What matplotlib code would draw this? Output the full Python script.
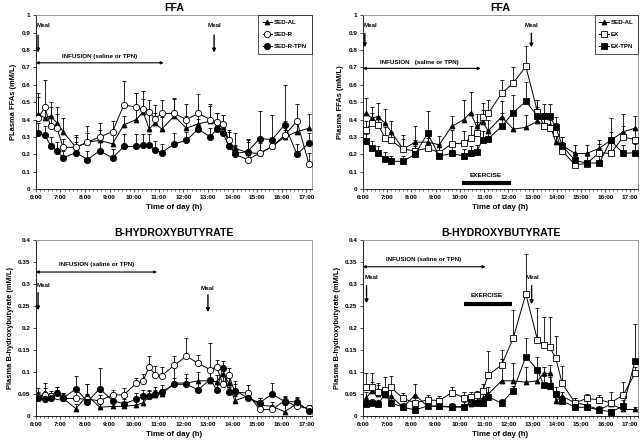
import numpy as np
import matplotlib
matplotlib.use("Agg")
import matplotlib.pyplot as plt
from matplotlib.ticker import MultipleLocator

plt.rcParams['font.family'] = ['Liberation Sans', 'DejaVu Sans']
plt.rcParams['font.weight'] = 'bold'

# sampling times (decimal hours)
time_sed = [6.09, 6.37, 6.6, 6.86, 7.11, 7.63, 8.1, 8.6, 9.12, 9.58, 10.09, 10.36, 10.61, 10.84, 11.12,
            11.63, 12.12, 12.6, 13.1, 13.35, 13.61, 13.85, 14.09, 14.61, 15.1, 15.61, 16.12, 16.62, 17.11]
time_ex = [6.12, 6.36, 6.63, 6.91, 7.16, 7.66, 8.15, 8.67, 9.15, 9.66, 10.17, 10.44, 10.69, 10.94, 11.17,
           11.72, 12.2, 12.72, 13.2, 13.46, 13.71, 13.96, 14.22, 14.75, 15.23, 15.75, 16.22, 16.74, 17.22]

hour_ticks = list(range(6, 18))
hour_labels = [f"{h}:00" for h in hour_ticks]

# FFA, sedentary groups (mM/L) and upper SEM
ffa_sed_al = [0.43, 0.41, 0.42, 0.38, 0.33, 0.24, 0.27, 0.28, 0.26, 0.37, 0.40, 0.445, 0.345, 0.38, 0.345,
              0.42, 0.35, 0.375, 0.39, 0.37, 0.355, 0.27, 0.235, 0.21, 0.205, 0.245, 0.30, 0.33, 0.35]
ffa_sed_r = [0.41, 0.47, 0.36, 0.35, 0.24, 0.24, 0.27, 0.30, 0.33, 0.485, 0.47, 0.46, 0.445, 0.405, 0.435,
             0.435, 0.40, 0.435, 0.40, 0.385, 0.375, 0.28, 0.20, 0.17, 0.205, 0.245, 0.31, 0.39, 0.145]
ffa_sed_r_tpn = [0.32, 0.31, 0.25, 0.22, 0.18, 0.21, 0.17, 0.22, 0.18, 0.245, 0.245, 0.255, 0.255, 0.225, 0.21,
                 0.26, 0.28, 0.345, 0.30, 0.345, 0.32, 0.25, 0.205, 0.215, 0.29, 0.285, 0.37, 0.20, 0.265]
err_ffa_sed_al = [0.12, 0.06, 0.08, 0.09, 0.08, 0.07, 0.05, 0.06, 0.05, 0.05, 0.15, 0.12, 0.10, 0.06, 0.07,
                  0.10, 0.07, 0.06, 0.09, 0.07, 0.07, 0.06, 0.09, 0.06, 0.06, 0.05, 0.04, 0.05, 0.08]
err_ffa_sed_r = [0.12, 0.155, 0.11, 0.08, 0.05, 0.06, 0.09, 0.08, 0.06, 0.135, 0.08, 0.06, 0.07, 0.08, 0.08,
                 0.09, 0.09, 0.11, 0.09, 0.05, 0.05, 0.06, 0.05, 0.12, 0.08, 0.05, 0.08, 0.10, 0.06]
err_ffa_sed_r_tpn = [0.06, 0.05, 0.05, 0.05, 0.04, 0.06, 0.05, 0.05, 0.05, 0.07, 0.07, 0.06, 0.06, 0.05, 0.05,
                     0.06, 0.05, 0.06, 0.05, 0.05, 0.05, 0.04, 0.05, 0.07, 0.16, 0.14, 0.23, 0.06, 0.06]

# FFA, exercise groups
ffa_ex_sed_al = [0.435, 0.41, 0.415, 0.38, 0.33, 0.23, 0.27, 0.27, 0.255, 0.36, 0.40, 0.44, 0.36, 0.385, 0.335,
                 0.415, 0.345, 0.355, 0.39, 0.37, 0.37, 0.27, 0.25, 0.205, 0.205, 0.235, 0.28, 0.33, 0.35]
ffa_ex = [0.34, 0.38, 0.37, 0.295, 0.28, 0.23, 0.22, 0.235, 0.21, 0.26, 0.265, 0.295, 0.325, 0.415, 0.435,
          0.55, 0.61, 0.705, 0.445, 0.365, 0.35, 0.32, 0.22, 0.14, 0.147, 0.21, 0.205, 0.30, 0.285]
ffa_ex_tpn = [0.275, 0.235, 0.21, 0.175, 0.16, 0.16, 0.20, 0.32, 0.19, 0.205, 0.19, 0.21, 0.215, 0.285, 0.29,
              0.36, 0.44, 0.505, 0.42, 0.42, 0.42, 0.355, 0.25, 0.165, 0.15, 0.15, 0.28, 0.205, 0.21]
err_ffa_ex_sed_al = [0.09, 0.06, 0.08, 0.08, 0.06, 0.08, 0.09, 0.06, 0.05, 0.06, 0.115, 0.12, 0.07, 0.07, 0.06,
                     0.09, 0.08, 0.07, 0.08, 0.07, 0.06, 0.05, 0.05, 0.05, 0.05, 0.05, 0.13, 0.10, 0.07]
err_ffa_ex = [0.05, 0.06, 0.05, 0.06, 0.05, 0.06, 0.06, 0.06, 0.05, 0.08, 0.07, 0.07, 0.06, 0.08, 0.075,
              0.08, 0.09, 0.12, 0.07, 0.05, 0.05, 0.06, 0.05, 0.05, 0.06, 0.05, 0.06, 0.06, 0.06]
err_ffa_ex_tpn = [0.04, 0.04, 0.04, 0.04, 0.03, 0.03, 0.05, 0.13, 0.05, 0.04, 0.04, 0.04, 0.04, 0.05, 0.05,
                  0.08, 0.10, 0.11, 0.09, 0.07, 0.07, 0.06, 0.05, 0.04, 0.04, 0.04, 0.05, 0.05, 0.05]

# B-hydroxybutyrate, sedentary groups
bhb_sed_al = [0.04, 0.055, 0.045, 0.05, 0.04, 0.017, 0.047, 0.02, 0.022, 0.022, 0.025, 0.03, 0.045, 0.048, 0.05,
              0.075, 0.075, 0.08, 0.08, 0.078, 0.095, 0.075, 0.035, 0.045, 0.025, 0.022, 0.01, 0.028, 0.015]
bhb_sed_r = [0.044, 0.048, 0.045, 0.045, 0.04, 0.04, 0.038, 0.035, 0.048, 0.048, 0.075, 0.08, 0.112, 0.094, 0.092,
             0.115, 0.136, 0.12, 0.105, 0.112, 0.072, 0.093, 0.055, 0.052, 0.015, 0.015, 0.035, 0.022, 0.018]
bhb_sed_r_tpn = [0.042, 0.038, 0.04, 0.052, 0.04, 0.062, 0.033, 0.062, 0.035, 0.028, 0.038, 0.045, 0.045, 0.05, 0.055,
                 0.072, 0.072, 0.06, 0.083, 0.06, 0.108, 0.055, 0.058, 0.042, 0.03, 0.05, 0.033, 0.032, 0.012]
err_bhb_sed_al = [0.015, 0.02, 0.012, 0.015, 0.012, 0.01, 0.025, 0.01, 0.01, 0.01, 0.01, 0.012, 0.012, 0.012, 0.012,
                  0.04, 0.02, 0.02, 0.025, 0.015, 0.015, 0.015, 0.01, 0.01, 0.015, 0.01, 0.015, 0.012, 0.01]
err_bhb_sed_r = [0.02, 0.015, 0.008, 0.015, 0.012, 0.015, 0.012, 0.012, 0.012, 0.015, 0.012, 0.015, 0.025, 0.02, 0.02,
                 0.022, 0.042, 0.018, 0.06, 0.015, 0.02, 0.015, 0.025, 0.018, 0.01, 0.01, 0.01, 0.01, 0.008]
err_bhb_sed_r_tpn = [0.01, 0.01, 0.012, 0.015, 0.01, 0.028, 0.04, 0.046, 0.01, 0.01, 0.015, 0.015, 0.015, 0.015, 0.015,
                     0.015, 0.015, 0.015, 0.02, 0.015, 0.017, 0.012, 0.015, 0.015, 0.01, 0.026, 0.01, 0.012, 0.01]

# B-hydroxybutyrate, exercise groups
bhb_ex_sed_al = [0.04, 0.057, 0.05, 0.048, 0.045, 0.02, 0.048, 0.022, 0.022, 0.02, 0.022, 0.028, 0.035, 0.04, 0.05,
                 0.08, 0.08, 0.077, 0.08, 0.097, 0.097, 0.035, 0.045, 0.03, 0.025, 0.014, 0.027, 0.015, 0.015]
bhb_ex = [0.065, 0.065, 0.055, 0.06, 0.065, 0.04, 0.03, 0.037, 0.035, 0.053, 0.042, 0.044, 0.048, 0.058, 0.093,
          0.116, 0.177, 0.277, 0.173, 0.161, 0.156, 0.131, 0.074, 0.03, 0.04, 0.037, 0.03, 0.048, 0.097]
bhb_ex_tpn = [0.027, 0.029, 0.027, 0.051, 0.03, 0.02, 0.014, 0.023, 0.023, 0.021, 0.02, 0.033, 0.03, 0.03, 0.044,
              0.029, 0.058, 0.135, 0.105, 0.07, 0.068, 0.05, 0.035, 0.02, 0.02, 0.014, 0.01, 0.022, 0.125]
err_bhb_ex_sed_al = [0.015, 0.02, 0.02, 0.015, 0.015, 0.01, 0.025, 0.01, 0.01, 0.01, 0.01, 0.01, 0.01, 0.015, 0.015,
                     0.05, 0.04, 0.035, 0.025, 0.015, 0.02, 0.01, 0.01, 0.01, 0.01, 0.01, 0.01, 0.01, 0.005]
err_bhb_ex = [0.033, 0.033, 0.02, 0.028, 0.025, 0.012, 0.012, 0.01, 0.01, 0.012, 0.012, 0.01, 0.01, 0.015, 0.055,
              0.035, 0.063, 0.09, 0.072, 0.064, 0.07, 0.05, 0.04, 0.012, 0.01, 0.01, 0.025, 0.03, 0.015]
err_bhb_ex_tpn = [0.01, 0.01, 0.01, 0.01, 0.01, 0.005, 0.005, 0.005, 0.005, 0.005, 0.008, 0.01, 0.012, 0.01, 0.01,
                  0.01, 0.01, 0.042, 0.03, 0.02, 0.02, 0.015, 0.01, 0.005, 0.005, 0.005, 0.005, 0.015, 0.085]


def draw_series(ax, t, y, err, marker, face, size, label):
    ax.errorbar(t, y, yerr=[np.zeros(len(err)), err], fmt='none', ecolor='black',
                elinewidth=0.6, capsize=1.2, capthick=0.6, zorder=2)
    ax.plot(t, y, color='black', lw=0.7, marker=marker, mfc=face, mec='black',
            ms=size, mew=0.6, label=label, zorder=3)


def style_axes(ax, title, ylabel, xmax, ymax, ystep, ylabels):
    ax.set_xlim(6, xmax)
    ax.set_ylim(0, ymax)
    ax.set_xticks(hour_ticks)
    ax.set_xticklabels(hour_labels)
    ax.xaxis.set_minor_locator(MultipleLocator(1 / 6))
    ax.set_yticks(np.arange(0, ymax + ystep / 2, ystep))
    ax.set_yticklabels(ylabels)
    ax.tick_params(axis='both', which='major', labelsize=4.6, length=2, width=0.5, pad=2)
    ax.tick_params(axis='x', which='minor', length=1.5, width=0.4)
    for side in ['top', 'right']:
        ax.spines[side].set_color('#8c8c8c')
        ax.spines[side].set_linewidth(0.6)
    for side in ['left', 'bottom']:
        ax.spines[side].set_linewidth(0.6)
    ax.set_title(title, fontsize=7.6, fontweight='bold', pad=3)
    ax.set_xlabel('Time of day (h)', fontsize=5.7, fontweight='bold', labelpad=3)
    ax.set_ylabel(ylabel, fontsize=5.4, fontweight='bold', labelpad=3)


def arrow_down(ax, x, y0, y1):
    ax.annotate('', xy=(x, y1), xytext=(x, y0),
                arrowprops=dict(arrowstyle='-|>', color='black', lw=1.0, mutation_scale=5,
                                shrinkA=0, shrinkB=0))


def infusion(ax, x1, y, tx, ty, text):
    ax.annotate('', xy=(x1, y), xytext=(6.0, y),
                arrowprops=dict(arrowstyle='<|-|>', color='black', lw=0.8, mutation_scale=4,
                                shrinkA=0, shrinkB=0))
    ax.text(tx, ty, text, fontsize=4.5, fontweight='bold', ha='center', va='center')


def legend(ax):
    leg = ax.legend(loc='upper right', fontsize=4.4, frameon=True, fancybox=False, edgecolor='black',
                    handlelength=1.5, handletextpad=0.3, borderpad=0.8, labelspacing=1.1,
                    borderaxespad=0)
    leg.get_frame().set_linewidth(0.6)


fig = plt.figure(figsize=(6.4, 4.45), dpi=100)
ax_tl = fig.add_axes([0.056, 0.575, 0.431, 0.391])
ax_tr = fig.add_axes([0.567, 0.575, 0.430, 0.391])
ax_bl = fig.add_axes([0.056, 0.065, 0.431, 0.396])
ax_br = fig.add_axes([0.567, 0.065, 0.430, 0.396])

ffa_ticks = ['0', '0.1', '0.2', '0.3', '0.4', '0.5', '0.6', '0.7', '0.8', '0.9', '1']
bhb_ticks = ['0', '0.05', '0.1', '0.15', '0.2', '0.25', '0.3', '0.35', '0.4']

# top left: FFA sedentary
ax = ax_tl
draw_series(ax, time_sed, ffa_sed_al, err_ffa_sed_al, '^', 'black', 3.5, 'SED-AL')
draw_series(ax, time_sed, ffa_sed_r, err_ffa_sed_r, 'o', 'white', 4.5, 'SED-R')
draw_series(ax, time_sed, ffa_sed_r_tpn, err_ffa_sed_r_tpn, 'o', 'black', 4.5, 'SED-R-TPN')
style_axes(ax, 'FFA', 'PLasma FFAs (mM/L)', 17.22, 1.0, 0.1, ffa_ticks)
legend(ax)
ax.text(6.03, 0.94, 'Meal', fontsize=4.5, fontweight='bold', ha='left', va='center')
arrow_down(ax, 6.09, 0.885, 0.785)
ax.text(13.25, 0.94, 'Meal', fontsize=4.5, fontweight='bold', ha='center', va='center')
arrow_down(ax, 13.25, 0.885, 0.785)
infusion(ax, 11.2, 0.726, 8.6, 0.765, 'INFUSION (saline or TPN)')

# top right: FFA exercise
ax = ax_tr
draw_series(ax, time_ex, ffa_ex_sed_al, err_ffa_ex_sed_al, '^', 'black', 3.5, 'SED-AL')
draw_series(ax, time_ex, ffa_ex, err_ffa_ex, 's', 'white', 4, 'EX')
draw_series(ax, time_ex, ffa_ex_tpn, err_ffa_ex_tpn, 's', 'black', 4, 'EX-TPN')
style_axes(ax, 'FFA', 'Plasma FFAs (mM/L)', 17.35, 1.0, 0.1, ffa_ticks)
legend(ax)
ax.text(6.03, 0.94, 'Meal', fontsize=4.5, fontweight='bold', ha='left', va='center')
arrow_down(ax, 6.08, 0.895, 0.815)
ax.text(12.95, 0.94, 'Meal', fontsize=4.5, fontweight='bold', ha='center', va='center')
arrow_down(ax, 12.95, 0.895, 0.815)
infusion(ax, 10.86, 0.694, 8.35, 0.73, 'INFUSION   (saline or TPN)')
ax.plot([10.07, 12.09], [0.036, 0.036], color='black', lw=3, solid_capstyle='butt')
ax.text(11.06, 0.076, 'EXERCISE', fontsize=4.6, fontweight='bold', ha='center', va='center')

# bottom left: BHB sedentary
ax = ax_bl
draw_series(ax, time_sed, bhb_sed_al, err_bhb_sed_al, '^', 'black', 3.5, 'SED-AL')
draw_series(ax, time_sed, bhb_sed_r, err_bhb_sed_r, 'o', 'white', 4.5, 'SED-R')
draw_series(ax, time_sed, bhb_sed_r_tpn, err_bhb_sed_r_tpn, 'o', 'black', 4.5, 'SED-R-TPN')
style_axes(ax, 'B-HYDROXYBUTYRATE', 'Plasma B-hydroxybutyrate (mM/L)', 17.22, 0.4, 0.05, bhb_ticks)
infusion(ax, 10.93, 0.327, 8.47, 0.344, 'INFUSION (saline or TPN)')
ax.text(6.05, 0.296, 'Meal', fontsize=4.5, fontweight='bold', ha='left', va='center')
arrow_down(ax, 6.09, 0.28, 0.24)
ax.text(13.0, 0.29, 'Meal', fontsize=4.5, fontweight='bold', ha='center', va='center')
arrow_down(ax, 13.0, 0.275, 0.236)

# bottom right: BHB exercise
ax = ax_br
draw_series(ax, time_ex, bhb_ex_sed_al, err_bhb_ex_sed_al, '^', 'black', 3.5, 'SED-AL')
draw_series(ax, time_ex, bhb_ex, err_bhb_ex, 's', 'white', 4, 'EX')
draw_series(ax, time_ex, bhb_ex_tpn, err_bhb_ex_tpn, 's', 'black', 4, 'EX-TPN')
style_axes(ax, 'B-HYDROXYBUTYRATE', 'Plasma B-hydroxybutyrate (mM/L)', 17.35, 0.4, 0.05, bhb_ticks)
infusion(ax, 11.06, 0.339, 8.52, 0.355, 'INFUSION (saline or TPN)')
ax.text(6.08, 0.315, 'Meal', fontsize=4.5, fontweight='bold', ha='left', va='center')
arrow_down(ax, 6.15, 0.296, 0.256)
ax.text(13.0, 0.315, 'Meal', fontsize=4.5, fontweight='bold', ha='center', va='center')
arrow_down(ax, 12.96, 0.296, 0.254)
ax.plot([10.17, 12.16], [0.255, 0.255], color='black', lw=3, solid_capstyle='butt')
ax.text(11.1, 0.273, 'EXERCISE', fontsize=4.6, fontweight='bold', ha='center', va='center')

fig.savefig('out.png', dpi=100)
